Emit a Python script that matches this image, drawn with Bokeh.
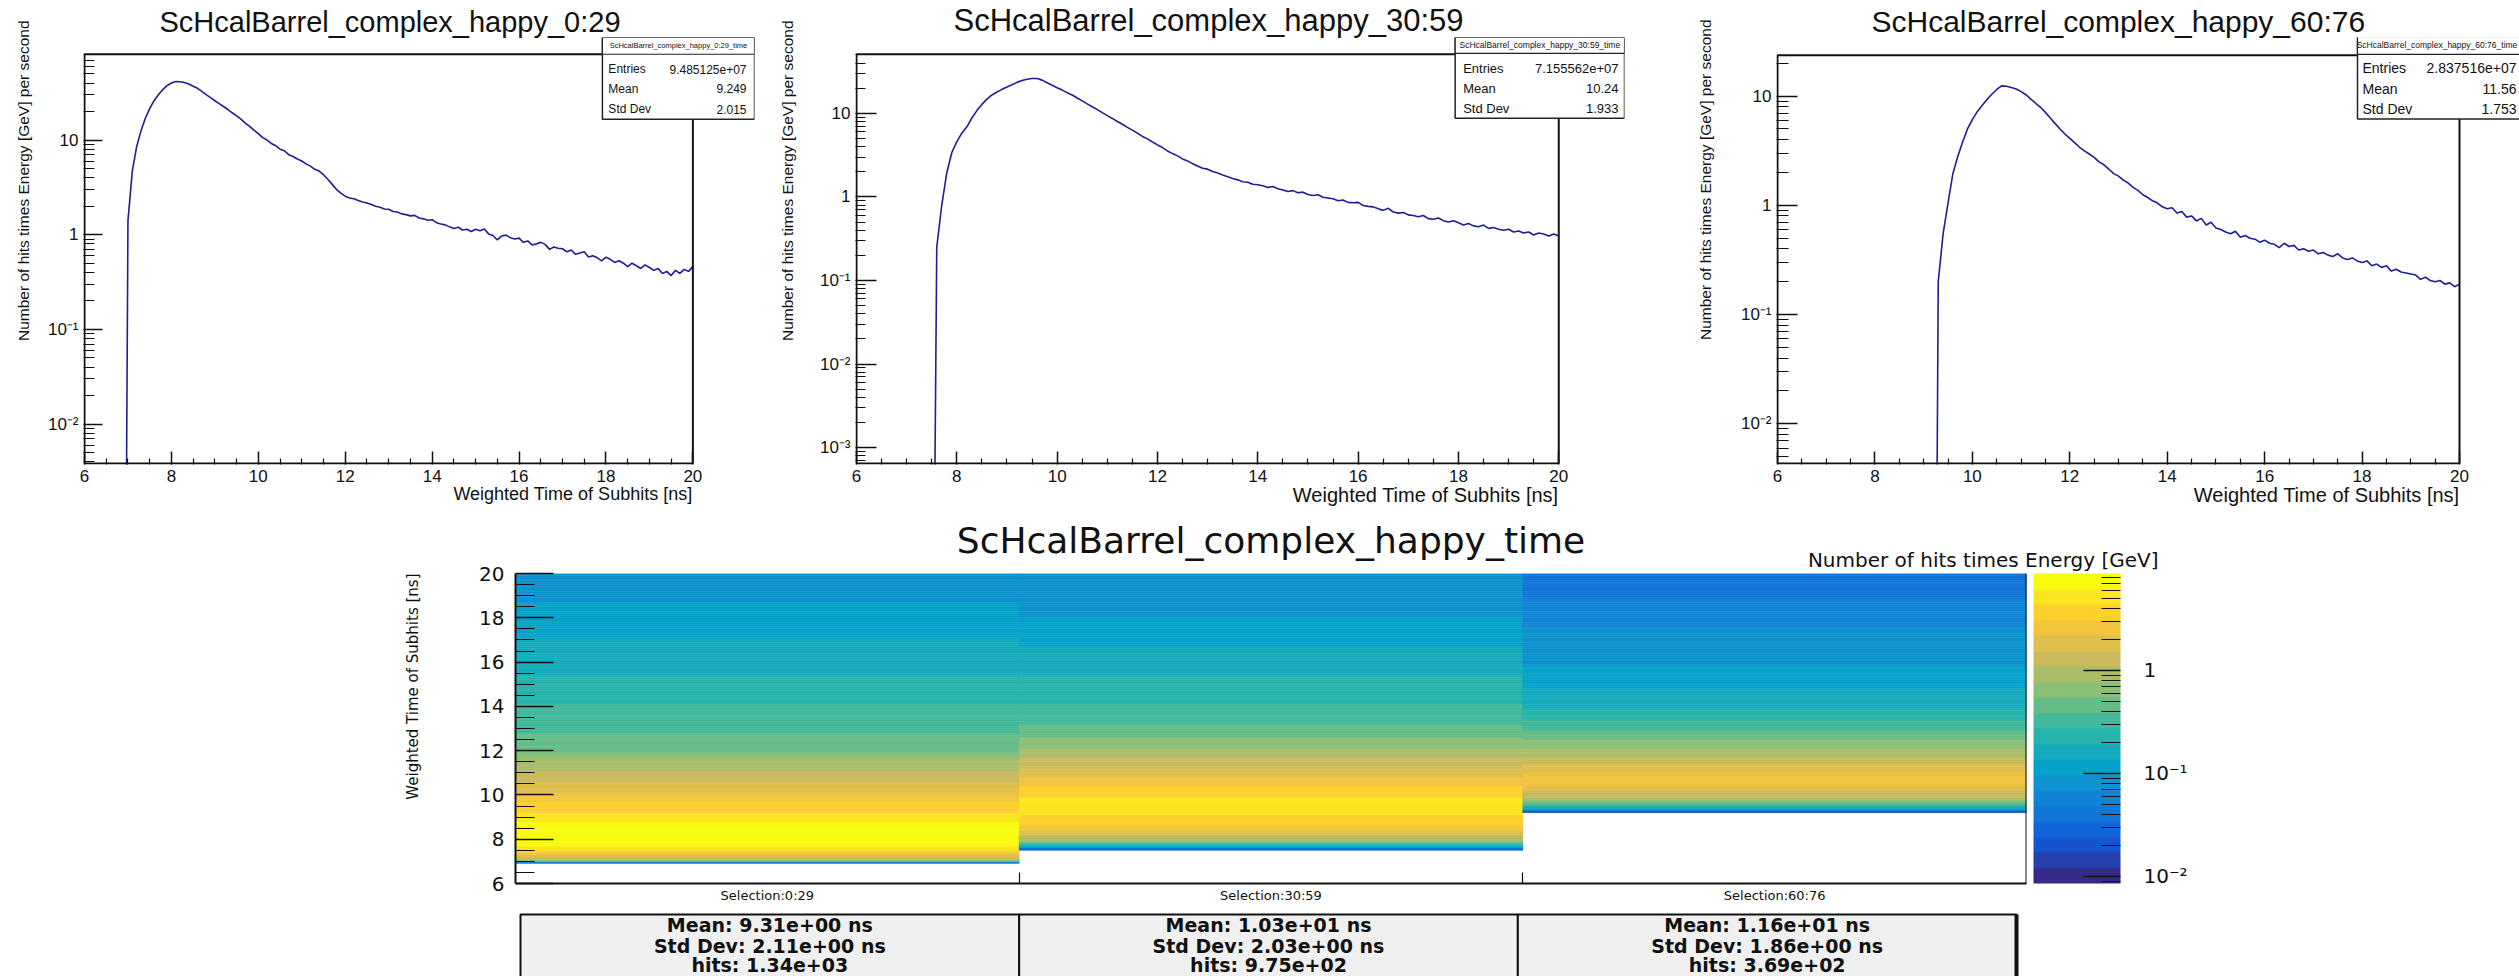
import numpy as np
from bokeh.plotting import figure
from bokeh.layouts import column, row
from bokeh.models import (Range1d, FixedTicker, CustomJSTickFormatter, Title, Label,
                          BoxAnnotation, ColorBar, LogColorMapper, ColumnDataSource, Span)
from bokeh.core.properties import value
from bokeh.transform import transform
from bokeh.embed import file_html
from bokeh.resources import INLINE

# ------------------------------------------------------------------ data
selections = ["0:29", "30:59", "60:76"]
time_ticks = [6, 8, 10, 12, 14, 16, 18, 20]
z_ticks = [0.01, 0.1, 1]

EMPTY = 1e-8   # empty bin: the histogram line drops to the axis floor
BIN = 0.1      # ns per sample

# energy-weighted time spectra per selection, one value every 0.1 ns from spec_start
spec_start = [6.9, 7.5, 9.2]
spec_sel0 = [
    EMPTY,
    1.4, 4.7, 8.5, 12.5, 17.0, 21.5, 26.0, 30.0, 34.0, 37.5,           # 7.0
    40.0, 41.5, 41.3, 40.5, 39.0, 37.0, 35.2, 32.6, 30.2, 28.0,        # 8.0
    26.0, 24.2, 22.6, 21.0, 19.4, 18.0, 16.6, 15.1, 13.9, 12.7,        # 9.0
    11.7, 10.6, 10.0, 9.2, 8.7, 8.0, 7.7, 7.0, 6.7, 6.3,               # 10.0
    6.0, 5.6, 5.3, 4.9, 4.7, 4.3, 3.85, 3.4, 3.0, 2.75,                # 11.0
    2.55, 2.44, 2.4, 2.3, 2.22, 2.16, 2.08, 2.0, 1.95, 1.87,           # 12.0
    1.86, 1.76, 1.74, 1.66, 1.63, 1.58, 1.6, 1.5, 1.47, 1.42,          # 13.0
    1.44, 1.34, 1.3, 1.27, 1.21, 1.16, 1.2, 1.12, 1.14, 1.08,          # 14.0
    1.14, 1.1, 1.15, 1.02, 0.98, 0.88, 0.97, 0.99, 0.93, 0.9,          # 15.0
    0.92, 0.83, 0.86, 0.78, 0.8, 0.83, 0.79, 0.7, 0.74, 0.72,          # 16.0
    0.71, 0.66, 0.69, 0.62, 0.64, 0.66, 0.58, 0.6, 0.57, 0.53,         # 17.0
    0.58, 0.55, 0.51, 0.53, 0.5, 0.46, 0.5, 0.47, 0.44, 0.48,          # 18.0
    0.45, 0.42, 0.44, 0.39, 0.41, 0.37, 0.42, 0.39, 0.43, 0.41,        # 19.0
    0.46,                                                              # 20.0
]
spec_sel1 = [
    EMPTY,
    0.25, 0.8, 1.95, 3.4,                                              # 7.6
    4.6, 5.8, 6.9, 8.8, 10.8, 12.8, 14.8, 16.6, 18.0, 19.4,            # 8.0
    20.7, 22.0, 23.5, 24.7, 25.6, 26.2, 26.2, 25.0, 23.3, 21.7,        # 9.0
    20.3, 19.0, 17.7, 16.6, 15.3, 14.1, 13.0, 12.0, 11.1, 10.2,        # 10.0
    9.4, 8.7, 8.0, 7.4, 6.8, 6.3, 5.8, 5.3, 4.95, 4.55,                # 11.0
    4.2, 3.9, 3.55, 3.3, 3.1, 2.85, 2.7, 2.5, 2.35, 2.2,               # 12.0
    2.15, 2.02, 1.93, 1.83, 1.74, 1.66, 1.6, 1.52, 1.5, 1.42,          # 13.0
    1.4, 1.36, 1.3, 1.33, 1.25, 1.21, 1.16, 1.19, 1.12, 1.14,          # 14.0
    1.07, 1.04, 1.06, 0.99, 0.97, 0.95, 0.9, 0.92, 0.86, 0.85,         # 15.0
    0.86, 0.79, 0.77, 0.76, 0.72, 0.69, 0.73, 0.66, 0.64, 0.65,        # 16.0
    0.61, 0.6, 0.58, 0.6, 0.55, 0.54, 0.56, 0.52, 0.5, 0.52,           # 17.0
    0.49, 0.46, 0.48, 0.45, 0.44, 0.46, 0.42, 0.43, 0.41, 0.4,         # 18.0
    0.41, 0.38, 0.39, 0.37, 0.38, 0.35, 0.37, 0.36, 0.34, 0.36,        # 19.0
    0.34,                                                              # 20.0
]
spec_sel2 = [
    EMPTY,
    0.2, 0.55, 1.05, 1.95, 2.8, 3.8, 5.0,                              # 9.3
    6.1, 7.2, 8.2, 9.3, 10.4, 11.5, 12.4, 12.3, 12.0, 11.6,            # 10.0
    11.0, 10.3, 9.4, 8.6, 7.9, 7.1, 6.3, 5.6, 5.0, 4.5,                # 11.0
    4.1, 3.75, 3.4, 3.15, 2.95, 2.75, 2.5, 2.35, 2.15, 1.95,           # 12.0
    1.85, 1.7, 1.6, 1.46, 1.37, 1.25, 1.18, 1.1, 1.05, 0.97,           # 13.0
    0.93, 0.95, 0.85, 0.88, 0.78, 0.8, 0.72, 0.76, 0.66, 0.7,          # 14.0
    0.62, 0.6, 0.57, 0.55, 0.58, 0.51, 0.53, 0.5, 0.49, 0.46,          # 15.0
    0.48, 0.45, 0.44, 0.41, 0.45, 0.42, 0.43, 0.39, 0.4, 0.38,         # 16.0
    0.39, 0.36, 0.37, 0.35, 0.34, 0.36, 0.33, 0.32, 0.33, 0.31,        # 17.0
    0.3, 0.31, 0.28, 0.29, 0.27, 0.28, 0.25, 0.26, 0.245, 0.24,        # 18.0
    0.235, 0.23, 0.21, 0.22, 0.205, 0.2, 0.205, 0.19, 0.195, 0.18,     # 19.0
    0.19,                                                              # 20.0
]
spectra = [spec_sel0, spec_sel1, spec_sel2]

stat_entries = [9.485125e+07, 7.155562e+07, 2.837516e+07]
stat_mean = [9.249, 10.24, 11.56]
stat_std = [2.015, 1.933, 1.753]

# 2D map: Number of hits times Energy per 0.1 ns bin, bins start at heat_start
heat_start = [6.9, 7.5, 9.2]
heat_sel0 = [
    0.06,
    0.6, 1.3, 2.1, 3.0, 3.9, 4.8, 5.6, 6.4, 7.2, 7.8,                  # 7.0
    8.1, 8.3, 8.2, 8.0, 7.6, 7.2, 6.8, 6.3, 5.8, 5.4,                  # 8.0
    5.0, 4.7, 4.35, 4.05, 3.75, 3.45, 3.15, 2.9, 2.65, 2.43,           # 9.0
    2.22, 2.05, 1.9, 1.78, 1.66, 1.56, 1.46, 1.36, 1.29, 1.22,         # 10.0
    1.15, 1.08, 1.01, 0.96, 0.89, 0.8, 0.72, 0.64, 0.58, 0.53,         # 11.0
    0.5, 0.485, 0.47, 0.455, 0.44, 0.42, 0.405, 0.39, 0.375, 0.37,     # 12.0
    0.36, 0.347, 0.34, 0.328, 0.322, 0.312, 0.305, 0.3, 0.285, 0.282,  # 13.0
    0.274, 0.262, 0.255, 0.247, 0.237, 0.235, 0.232, 0.227, 0.225, 0.225,  # 14.0
    0.225, 0.218, 0.213, 0.203, 0.188, 0.185, 0.193, 0.19, 0.187, 0.183,  # 15.0
    0.17, 0.167, 0.163, 0.158, 0.162, 0.157, 0.147, 0.15, 0.148, 0.138,   # 16.0
    0.138, 0.136, 0.134, 0.132, 0.129, 0.125, 0.122, 0.12, 0.113, 0.115,  # 17.0
    0.116, 0.108, 0.107, 0.105, 0.103, 0.101, 0.098, 0.096, 0.094, 0.093, # 18.0
    0.092, 0.089, 0.086, 0.084, 0.083, 0.081, 0.08, 0.082, 0.084, 0.089,  # 19.0
]
heat_sel1 = [
    0.03, 0.12, 0.27, 0.52, 0.79,                                      # 7.5
    1.04, 1.27, 1.57, 1.96, 2.36, 2.76, 3.14, 3.46, 3.74, 4.01,        # 8.0
    4.27, 4.55, 4.82, 5.03, 5.18, 5.24, 5.12, 4.83, 4.5, 4.2,          # 9.0
    3.93, 3.67, 3.43, 3.19, 2.94, 2.71, 2.5, 2.31, 2.13, 1.96,         # 10.0
    1.81, 1.67, 1.54, 1.42, 1.31, 1.21, 1.11, 1.03, 0.95, 0.875,       # 11.0
    0.81, 0.745, 0.685, 0.64, 0.595, 0.555, 0.52, 0.485, 0.455, 0.435, # 12.0
    0.415, 0.39, 0.375, 0.357, 0.338, 0.326, 0.312, 0.302, 0.292, 0.282,  # 13.0
    0.275, 0.265, 0.262, 0.257, 0.247, 0.238, 0.236, 0.232, 0.227, 0.223, # 14.0
    0.213, 0.208, 0.205, 0.199, 0.192, 0.188, 0.183, 0.176, 0.171, 0.169, # 15.0
    0.164, 0.157, 0.153, 0.148, 0.142, 0.141, 0.137, 0.131, 0.128, 0.125, # 16.0
    0.123, 0.119, 0.117, 0.115, 0.111, 0.108, 0.107, 0.104, 0.101, 0.1,   # 17.0
    0.096, 0.095, 0.093, 0.091, 0.09, 0.087, 0.087, 0.085, 0.083, 0.082,  # 18.0
    0.081, 0.08, 0.077, 0.077, 0.076, 0.075, 0.074, 0.073, 0.072, 0.069,  # 19.0
]
heat_sel2 = [
    0.02, 0.075, 0.16, 0.3, 0.475, 0.66, 0.88, 1.11,                   # 9.2
    1.33, 1.54, 1.75, 1.97, 2.19, 2.39, 2.47, 2.43, 2.36, 2.26,        # 10.0
    2.13, 1.97, 1.8, 1.65, 1.5, 1.34, 1.19, 1.06, 0.95, 0.86,          # 11.0
    0.785, 0.715, 0.655, 0.61, 0.57, 0.525, 0.485, 0.45, 0.41, 0.38,   # 12.0
    0.355, 0.33, 0.305, 0.28, 0.26, 0.243, 0.228, 0.215, 0.203, 0.19,  # 13.0
    0.187, 0.18, 0.172, 0.165, 0.158, 0.152, 0.146, 0.14, 0.135, 0.131,  # 14.0
    0.122, 0.118, 0.114, 0.113, 0.109, 0.105, 0.103, 0.099, 0.096, 0.095, # 15.0
    0.093, 0.089, 0.087, 0.087, 0.085, 0.083, 0.081, 0.079, 0.078, 0.077, # 16.0
    0.076, 0.073, 0.073, 0.072, 0.069, 0.069, 0.068, 0.065, 0.063, 0.061, # 17.0
    0.061, 0.06, 0.057, 0.055, 0.054, 0.053, 0.051, 0.05, 0.049, 0.047,   # 18.0
    0.046, 0.045, 0.044, 0.043, 0.041, 0.04, 0.039, 0.039, 0.038, 0.037,  # 19.0
]
heat_maps = [heat_sel0, heat_sel1, heat_sel2]

sel_mean = [9.31, 10.3, 11.6]
sel_std = [2.11, 2.03, 1.86]
sel_hits = [1340, 975, 369]

# axis limits
spec_ylim = [(3.83e-3, 80.5), (6.44e-4, 51.0), (4.33e-3, 23.6)]
z_lim = (8.55e-3, 8.74)

# ------------------------------------------------------------------ style
FONT = "Liberation Sans"
WIDE = "DejaVu Sans"
INK = "#111111"
LINE_BLUE = "#1e1e96"

W_TOTAL = 2519
TOP_H = 518
HEAT_H = 387
TAB_H = 71

# ROOT "kBird" palette sampled into 20 contour colours
_stops = [0.0, 0.125, 0.25, 0.375, 0.5, 0.625, 0.75, 0.875, 1.0]
_red = [0.2082, 0.0592, 0.0780, 0.0232, 0.1802, 0.5301, 0.8186, 0.9956, 0.9764]
_green = [0.1664, 0.3599, 0.5041, 0.6419, 0.7178, 0.7492, 0.7328, 0.7862, 0.9832]
_blue = [0.5293, 0.8684, 0.8385, 0.7914, 0.6425, 0.4662, 0.3499, 0.1968, 0.0539]


def bird(n):
    cols = []
    for k in range(n):
        f = k / (n - 1)
        r, g, b = (float(np.interp(f, _stops, ch)) for ch in (_red, _green, _blue))
        cols.append("#%02x%02x%02x" % (round(r * 255), round(g * 255), round(b * 255)))
    return cols


def sup_formatter():
    return CustomJSTickFormatter(code="""
        const e = Math.round(Math.log10(tick));
        if (e === 0) { return "1"; }
        if (e === 1) { return "10"; }
        const m = {"-": "\\u207b", "0": "\\u2070", "1": "\\u00b9", "2": "\\u00b2",
                   "3": "\\u00b3", "4": "\\u2074"};
        return "10" + String(e).split("").map(c => m[c]).join("");
    """)


def style_axis(ax, font, size, major_in, minor_in, standoff=5, line=True):
    ax.major_label_text_font = font
    ax.major_label_text_font_size = f"{size}px"
    ax.major_label_text_color = INK
    ax.major_tick_in = major_in
    ax.major_tick_out = 0
    ax.minor_tick_in = minor_in
    ax.minor_tick_out = 0
    ax.axis_line_width = 2
    ax.axis_line_color = INK if line else None
    ax.major_tick_line_color = INK
    ax.minor_tick_line_color = INK
    ax.major_tick_line_width = 1.5
    ax.minor_tick_line_width = 1.2
    ax.major_label_standoff = standoff


log_major = [10.0 ** e for e in range(-4, 2)]
log_minor = [m * 10.0 ** e for e in range(-4, 2) for m in range(2, 10)]
time_minor = [t / 2 for t in range(12, 41) if t % 4 != 0]

# page-pixel geometry of the three spectrum panels (frame, title, statistics box)
panels = [
    dict(x0=0, w=755, fl=80, fr=692, ft=53, fb=468, pt=36, title_px=29, title_left=155,
         xlab_px=18, ylab_sd=25, stat_px=12, head_px=7.5, box=(601, 754, 36, 119), sep=53,
         rows=(68, 88, 109), lab_x=607, val_x=746, yt_major=19, yt_minor=11),
    dict(x0=755, w=905, fl=853, fr=1558, ft=53, fb=468, pt=36, title_px=31, title_left=950,
         xlab_px=20, ylab_sd=42, stat_px=13, head_px=8.5, box=(1454, 1624, 36, 118), sep=52,
         rows=(67, 88, 108), lab_x=1462, val_x=1618, yt_major=21, yt_minor=10),
    dict(x0=1660, w=859, fl=1777, fr=2459, ft=52, fb=463, pt=34, title_px=30, title_left=1871,
         xlab_px=20, ylab_sd=48, stat_px=14, head_px=8.5, box=(2357, 2532, 33, 116), sep=51,
         rows=(65, 86, 106), lab_x=2362, val_x=2516, yt_major=21, yt_minor=12),
]


def spectrum_panel(i, cfg):
    lo, hi = spec_ylim[i]
    fl, fr, ft, fb = cfg["fl"], cfg["fr"], cfg["ft"], cfg["fb"]
    bl, br, bt, bb = cfg["box"]
    x0, w = cfg["x0"], cfg["w"]
    # plotting area: one pixel outside the drawn frame at left/bottom and
    # stretched up/right so that the statistics box is drawn inside it
    PL, PB = fl - 1, fb + 1
    PR = min(max(fr, br), x0 + w)
    PT = cfg["pt"]
    llo, lhi = np.log10(lo), np.log10(hi)
    ppx = (fr - fl) / 14.0
    ppd = (fb - ft) / (lhi - llo)
    xr = Range1d(6 - (fl - PL) / ppx, 20 + (PR - fr) / ppx)
    yr = Range1d(10 ** (llo - (PB - fb) / ppd), 10 ** (lhi + (ft - PT) / ppd))

    p = figure(width=w, height=TOP_H, x_range=xr, y_range=yr, y_axis_type="log",
               output_backend="svg", toolbar_location=None,
               min_border_left=PL - x0, min_border_right=x0 + w - PR,
               min_border_top=PT, min_border_bottom=TOP_H - PB,
               title="ScHcalBarrel_complex_happy_" + selections[i])
    p.grid.visible = False
    p.outline_line_color = None
    p.title.align = "left"
    p.title.offset = cfg["title_left"] - PL
    p.title.text_font = FONT
    p.title.text_font_style = "normal"
    p.title.text_font_size = f"{cfg['title_px']}px"
    p.title.text_color = INK
    p.title.standoff = 0

    p.xaxis.ticker = FixedTicker(ticks=time_ticks, minor_ticks=time_minor)
    p.yaxis.ticker = FixedTicker(ticks=[v for v in log_major if lo <= v <= hi],
                                 minor_ticks=[v for v in log_minor if lo <= v <= hi])
    p.yaxis.formatter = sup_formatter()
    style_axis(p.xaxis[0], FONT, 17, 13, 6, standoff=5, line=False)
    style_axis(p.yaxis[0], FONT, 17, cfg["yt_major"], cfg["yt_minor"], standoff=5, line=False)

    p.add_layout(Title(text="Weighted Time of Subhits [ns]", align="right", offset=PR - fr,
                       text_font=FONT, text_font_style="normal",
                       text_font_size=f"{cfg['xlab_px']}px", text_color=INK, standoff=-6),
                 "below")
    p.add_layout(Title(text="Number of hits times Energy [GeV] per second", align="right",
                       offset=-(ft - PT), text_font=FONT, text_font_style="normal",
                       text_font_size="15.5px", text_color=INK, standoff=cfg["ylab_sd"]),
                 "left")

    # frame of the histogram
    p.add_layout(BoxAnnotation(left=6, right=20, bottom=lo, top=hi, fill_alpha=0,
                               line_color=INK, line_alpha=1, line_width=2))

    vals = spectra[i]
    t = [round(spec_start[i] + BIN * k, 2) for k in range(len(vals))]
    p.line(t, vals, line_color=LINE_BLUE, line_width=1.6)

    def dx(X):
        return 6 + (X - fl) / ppx

    def dy(Y):
        return float(10 ** (lhi - (Y - ft) / ppd))

    # statistics box
    p.add_layout(BoxAnnotation(left=dx(bl), right=dx(br), top=dy(bt), bottom=dy(bb),
                               fill_color="white", fill_alpha=1, line_color="#222222",
                               line_alpha=1, line_width=1.5))
    p.add_layout(BoxAnnotation(left=dx(bl), right=dx(br), top=dy(bt), bottom=dy(cfg["sep"]),
                               fill_color="white", fill_alpha=1, line_color="#222222",
                               line_alpha=1, line_width=1.2))
    head_cx = (bl + br) / 2 if i < 2 else (bl + cfg["val_x"]) / 2
    p.add_layout(Label(x=dx(head_cx), y=dy((bt + cfg["sep"]) / 2),
                       text="ScHcalBarrel_complex_happy_" + selections[i] + "_time",
                       text_align="center", text_baseline="middle", text_font=FONT,
                       text_font_size=f"{cfg['head_px']}px", text_color=INK))
    names = ["Entries", "Mean", "Std Dev"]
    vals_txt = [f"{stat_entries[i]:.6e}", f"{stat_mean[i]:.4g}", f"{stat_std[i]:.4g}"]
    for name, vt, ry in zip(names, vals_txt, cfg["rows"]):
        p.add_layout(Label(x=dx(cfg["lab_x"]), y=dy(ry), text=name, text_align="left",
                           text_baseline="middle", text_font=FONT,
                           text_font_size=f"{cfg['stat_px']}px", text_color=INK))
        p.add_layout(Label(x=dx(cfg["val_x"]), y=dy(ry), text=vt, text_align="right",
                           text_baseline="middle", text_font=FONT,
                           text_font_size=f"{cfg['stat_px']}px", text_color=INK))
    return p


top_figs = [spectrum_panel(i, cfg) for i, cfg in enumerate(panels)]

# ------------------------------------------------------------------ 2D map
HF_L, HF_R, HF_T, HF_B = 515, 2026, 573, 883   # page pixels of the map frame
heat = figure(width=W_TOTAL, height=HEAT_H, x_range=Range1d(0, 3), y_range=Range1d(6, 20),
              output_backend="svg", toolbar_location=None, title=None,
              min_border_left=HF_L, min_border_right=W_TOTAL - HF_R,
              min_border_top=HF_T - TOP_H, min_border_bottom=TOP_H + HEAT_H - HF_B)
heat.grid.visible = False
heat.outline_line_color = None

mapper = LogColorMapper(palette=bird(20), low=z_lim[0], high=z_lim[1])
cells = dict(left=[], right=[], bottom=[], top=[], z=[])
for c, (start, zs) in enumerate(zip(heat_start, heat_maps)):
    for k, z in enumerate(zs):
        b = round(start + BIN * k, 2)
        cells["left"].append(c)
        cells["right"].append(c + 1)
        cells["bottom"].append(b)
        cells["top"].append(round(b + BIN, 2))
        cells["z"].append(z)
heat.quad(source=ColumnDataSource(cells), left="left", right="right", bottom="bottom", top="top",
          fill_color=transform("z", mapper), line_color=transform("z", mapper), line_width=0.6)

heat.yaxis.ticker = FixedTicker(ticks=time_ticks, minor_ticks=time_minor)
style_axis(heat.yaxis[0], WIDE, 20, 38, 19, standoff=11)
heat.xaxis.ticker = FixedTicker(ticks=[0.5, 1.5, 2.5], minor_ticks=[1, 2])
heat.xaxis.formatter = CustomJSTickFormatter(
    args=dict(labels=["Selection:" + s for s in selections]),
    code="return labels[Math.floor(tick)];")
style_axis(heat.xaxis[0], WIDE, 13, 0, 11, standoff=4)
heat.add_layout(Span(location=3, dimension="height", line_color=INK, line_width=2))
heat.add_layout(Title(text="Weighted Time of Subhits [ns]", align="right", text_font=WIDE,
                      text_font_style="normal", text_font_size="15px", text_color=INK,
                      standoff=109), "left")

cbar = ColorBar(color_mapper=mapper, ticker=FixedTicker(ticks=z_ticks, minor_ticks=log_minor),
                formatter=sup_formatter(), width=87, height=HF_B - HF_T, location=(7, 0),
                padding=0, margin=0, label_standoff=23,
                major_label_text_font=WIDE, major_label_text_font_size="20px",
                major_label_text_color=INK,
                major_tick_in=37, major_tick_out=0, minor_tick_in=19, minor_tick_out=0,
                major_tick_line_color=INK, minor_tick_line_color=INK,
                major_tick_line_width=1.5, minor_tick_line_width=1.2,
                bar_line_color=None, border_line_color=None)
heat.add_layout(cbar, "right")

# colour-scale caption (nearest the frame), then the map title above it
heat.add_layout(Title(text="Number of hits times Energy [GeV]", align="right", offset=-132,
                      text_font=WIDE, text_font_style="normal", text_font_size="20px",
                      text_color=INK, standoff=4), "above")
heat.add_layout(Title(text="ScHcalBarrel_complex_happy_time", align="center", text_font=WIDE,
                      text_font_style="normal", text_font_size="36px", text_color=INK,
                      standoff=-35), "above")

# ------------------------------------------------------------------ summary row
tab = figure(width=W_TOTAL, height=TAB_H, x_range=Range1d(-0.01, 3.02), y_range=Range1d(0, 1),
             output_backend="svg", toolbar_location=None, x_axis_location=None,
             y_axis_location=None, min_border_left=510, min_border_right=483,
             min_border_top=0, min_border_bottom=0)
tab.grid.visible = False
tab.outline_line_color = None
tab.quad(left=[0, 1, 2], right=[1, 2, 3], bottom=-0.3, top=0.873,
         fill_color="#f0f0f0", line_color=INK, line_width=2)
tab.segment(x0=[3], y0=[-0.3], x1=[3], y1=[0.873], line_color=INK, line_width=4)
centers = [0.5, 1.5, 2.5]
for yrow, texts in [
    (0.732, [f"Mean: {m:.2e} ns" for m in sel_mean]),
    (0.423, [f"Std Dev: {s:.2e} ns" for s in sel_std]),
    (0.155, [f"hits: {h:.2e}" for h in sel_hits]),
]:
    tab.text(x=centers, y=[yrow] * 3, text=texts, text_font=value(WIDE),
             text_font_size="19px", text_font_style="bold", text_align="center",
             text_baseline="middle", text_color=INK)

page = column(row(*top_figs), heat, tab)
open("out.html", "w", encoding="utf-8").write(file_html(page, INLINE))
